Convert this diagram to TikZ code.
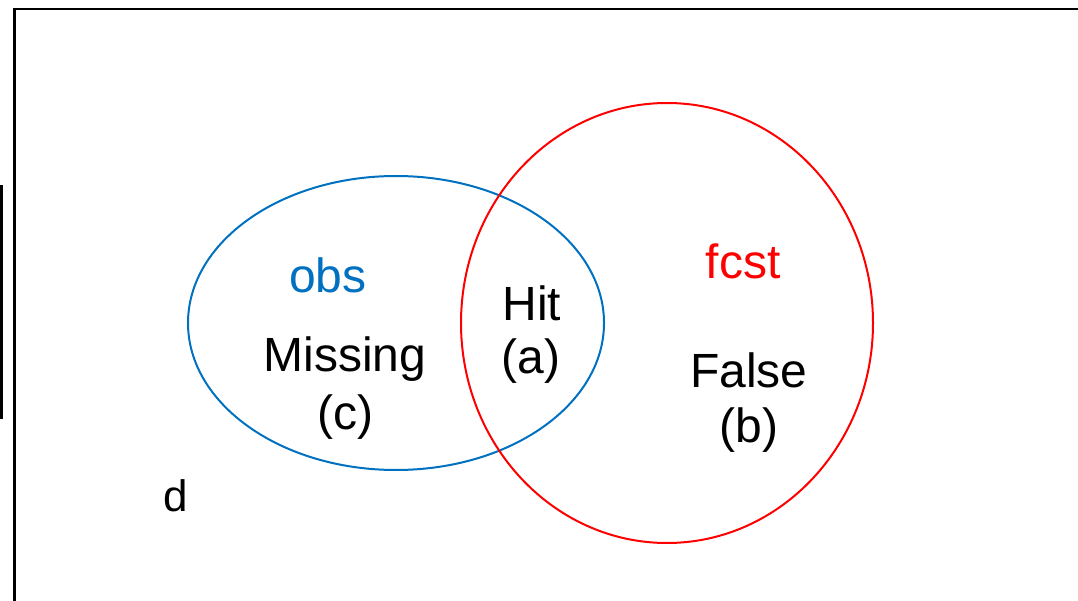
\documentclass[tikz,border=0pt]{standalone}
\usepackage{fontspec}
\setmainfont{Liberation Sans}
\usetikzlibrary{shapes.geometric}
\definecolor{obsblue}{RGB}{0,112,192}
\definecolor{fcstred}{RGB}{255,0,0}
\begin{document}
\begin{tikzpicture}[x=1pt,y=-1pt,
  lbl/.style={inner sep=0pt,anchor=base,font=\fontsize{48}{57}\selectfont},
  frame/.style={line width=2.6pt,black},
  setline/.style={line width=2pt}]
\useasboundingbox (0,0) rectangle (1078,601);
\begin{scope}
\clip (0,0) rectangle (1078,601);
% outer frame, running off the right and bottom edges
\draw[frame] (14.5,620) -- (14.5,9) -- (1100,9);
% edge of a neighbouring box on the far left
\draw[line width=2.4pt] (-20,186) rectangle (1.5,418);
\end{scope}
% the two sets
\node[setline,draw=obsblue,ellipse,minimum width=416pt,minimum height=294pt,inner sep=0pt] (obs) at (396,323) {};
\node[setline,draw=fcstred,ellipse,minimum width=412pt,minimum height=440pt,inner sep=0pt] (fcst) at (667,323) {};
% labels
\node[lbl,text=obsblue] (obslbl) at (328,293) {obs};
\node[lbl] (miss) at (345,371) {Missing};
\node[lbl] (c) at (345,429) {(c)};
\node[lbl] (hit) at (532,320) {Hit};
\node[lbl] (a) at (531,373) {(a)};
\node[lbl,text=fcstred] (fcstlbl) at (743,279) {fcst};
\node[lbl] (false) at (749,387) {False};
\node[lbl] (b) at (749,442) {(b)};
\node[lbl,font=\fontsize{44}{52}\selectfont] (d) at (176,511) {d};
\end{tikzpicture}
\end{document}
